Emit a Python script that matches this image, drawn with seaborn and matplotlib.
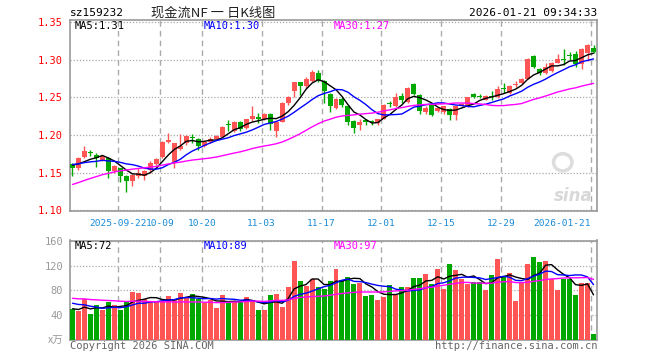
import numpy as np
import pandas as pd
import matplotlib
matplotlib.use("Agg")
import matplotlib.pyplot as plt
from matplotlib.patches import Ellipse
import seaborn as sns

# daily OHLC, 2025-09-10 .. 2026-01-21
opens = [1.161, 1.156, 1.171, 1.177, 1.174, 1.167, 1.169, 1.152, 1.156, 1.146,
         1.139, 1.146, 1.146, 1.154, 1.162, 1.171, 1.191, 1.164, 1.182, 1.189,
         1.197, 1.195, 1.186, 1.191, 1.195, 1.198, 1.214, 1.205, 1.218, 1.209,
         1.221, 1.223, 1.221, 1.228, 1.205, 1.218, 1.242, 1.258, 1.270, 1.265,
         1.272, 1.282, 1.272, 1.255, 1.236, 1.248, 1.238, 1.219, 1.213, 1.219,
         1.218, 1.216, 1.222, 1.242, 1.239, 1.252, 1.244, 1.268, 1.253, 1.231,
         1.240, 1.232, 1.231, 1.235, 1.227, 1.240, 1.238, 1.255, 1.252, 1.247,
         1.251, 1.250, 1.262, 1.256, 1.267, 1.269, 1.275, 1.305, 1.288, 1.282,
         1.285, 1.296, 1.301, 1.306, 1.307, 1.294, 1.309, 1.316]
highs = [1.163, 1.171, 1.186, 1.180, 1.176, 1.174, 1.171, 1.160, 1.157, 1.147,
         1.148, 1.156, 1.154, 1.165, 1.170, 1.192, 1.203, 1.190, 1.201, 1.200,
         1.201, 1.196, 1.193, 1.197, 1.200, 1.212, 1.220, 1.219, 1.219, 1.222,
         1.238, 1.229, 1.229, 1.229, 1.219, 1.244, 1.252, 1.271, 1.271, 1.277,
         1.286, 1.286, 1.273, 1.256, 1.249, 1.250, 1.239, 1.220, 1.221, 1.222,
         1.220, 1.222, 1.241, 1.245, 1.256, 1.256, 1.264, 1.269, 1.254, 1.238,
         1.241, 1.237, 1.239, 1.236, 1.239, 1.242, 1.251, 1.256, 1.254, 1.253,
         1.258, 1.265, 1.269, 1.267, 1.272, 1.276, 1.302, 1.306, 1.289, 1.296,
         1.297, 1.308, 1.314, 1.310, 1.311, 1.315, 1.321, 1.319]
lows = [1.146, 1.154, 1.169, 1.172, 1.158, 1.165, 1.143, 1.150, 1.138, 1.125,
        1.133, 1.143, 1.140, 1.150, 1.160, 1.170, 1.189, 1.156, 1.180, 1.187,
        1.190, 1.180, 1.184, 1.189, 1.194, 1.197, 1.206, 1.204, 1.206, 1.208,
        1.219, 1.216, 1.220, 1.207, 1.198, 1.217, 1.240, 1.250, 1.253, 1.263,
        1.271, 1.271, 1.243, 1.230, 1.235, 1.237, 1.213, 1.203, 1.207, 1.213,
        1.214, 1.213, 1.221, 1.237, 1.237, 1.243, 1.243, 1.253, 1.228, 1.228,
        1.225, 1.230, 1.228, 1.220, 1.220, 1.238, 1.237, 1.249, 1.249, 1.246,
        1.246, 1.249, 1.256, 1.255, 1.264, 1.268, 1.274, 1.289, 1.280, 1.281,
        1.284, 1.295, 1.293, 1.299, 1.291, 1.288, 1.298, 1.309]
closes = [1.157, 1.169, 1.179, 1.176, 1.169, 1.172, 1.152, 1.159, 1.146, 1.139,
          1.147, 1.150, 1.152, 1.163, 1.168, 1.191, 1.194, 1.189, 1.186, 1.199,
          1.196, 1.186, 1.191, 1.195, 1.199, 1.211, 1.213, 1.218, 1.208, 1.221,
          1.226, 1.222, 1.228, 1.215, 1.218, 1.243, 1.251, 1.270, 1.265, 1.275,
          1.284, 1.273, 1.258, 1.238, 1.248, 1.240, 1.218, 1.209, 1.218, 1.218,
          1.217, 1.221, 1.240, 1.241, 1.251, 1.247, 1.263, 1.255, 1.232, 1.236,
          1.227, 1.236, 1.238, 1.227, 1.238, 1.241, 1.250, 1.250, 1.251, 1.252,
          1.250, 1.261, 1.261, 1.265, 1.268, 1.275, 1.301, 1.290, 1.282, 1.290,
          1.296, 1.301, 1.299, 1.305, 1.294, 1.314, 1.320, 1.310]
# volume, unit 万
volumes = [49, 46, 66, 41, 56, 48, 61, 56, 48, 62,
           77, 75, 66, 61, 61, 62, 71, 66, 75, 69,
           74, 66, 59, 64, 51, 72, 62, 62, 61, 69,
           64, 48, 48, 72, 74, 53, 85, 127, 95, 87,
           98, 85, 82, 95, 114, 97, 102, 90, 92, 71,
           72, 64, 69, 89, 72, 85, 85, 100, 100, 106,
           90, 114, 82, 123, 113, 98, 90, 93, 93, 80,
           105, 131, 102, 108, 62, 93, 123, 134, 126, 128,
           98, 80, 98, 98, 72, 92, 92, 9]

# sessions before the window, estimated from where the MA lines start
closes_before = [1.092, 1.094, 1.095, 1.097, 1.096, 1.098, 1.101, 1.104, 1.108, 1.113,
                 1.121, 1.128, 1.134, 1.139, 1.142, 1.146, 1.150, 1.153, 1.155, 1.158,
                 1.160, 1.163, 1.166, 1.162, 1.158, 1.161, 1.164, 1.160, 1.159]
volumes_before = [72, 68, 75, 70, 66, 74, 69, 71, 73, 68,
                  70, 75, 72, 69, 71, 67, 73, 70, 74, 73,
                  66, 72, 64, 70, 68, 52, 47, 55, 47]

date_ticks = [8, 15, 22, 32, 42, 52, 62, 72, 87]
date_labels = ["2025-09-22", "10-09", "10-20", "11-03", "11-17",
               "12-01", "12-15", "12-29", "2026-01-21"]

RED = "#ff5555"
GREEN = "#00a800"
GRID = "#aaaaaa"
FRAME = "#999999"
MONO = "DejaVu Sans Mono"

sns.set_theme(style="white")
plt.rcParams["font.family"] = [MONO, "Noto Sans CJK SC"]

n = len(closes)
x = np.arange(n)
up = np.array(closes) >= np.array(opens)
colors = np.where(up, RED, GREEN)

c_all = pd.Series(closes_before + closes)
v_all = pd.Series(volumes_before + volumes)
ma_p = {k: c_all.rolling(k).mean().to_numpy()[-n:] for k in (5, 10, 30)}
ma_v = {k: v_all.rolling(k).mean().to_numpy()[-n:] for k in (5, 10, 30)}
ma_col = {5: "black", 10: "#0000ff", 30: "#ff00ff"}

W, H = 660, 360
fig = plt.figure(figsize=(6.6, 3.6), dpi=100)
ax1 = fig.add_axes([70 / W, 1 - 211 / H, 527 / W, 191 / H])
ax2 = fig.add_axes([70 / W, 1 - 340 / H, 527 / W, 99.5 / H])

bw = 5 / 6
xl = (-2.5 / 6, n - 2.5 / 6)
grid_x = [t - 2.5 / 6 for t in date_ticks]

# watermark (drawn under the candles)
ax1.add_patch(Ellipse((0.935, 0.255), 0.035, 0.09, transform=ax1.transAxes,
                      facecolor="none", edgecolor="#dddddd", linewidth=2.5, zorder=1))
ax1.text(0.992, 0.08, "sina", transform=ax1.transAxes, fontsize=12, color="#d8d8d8",
         style="italic", weight="bold", va="center", ha="right",
         family="DejaVu Sans", zorder=1)

# candles
body_lo = np.minimum(opens, closes)
body_h = np.maximum(np.abs(np.array(closes) - np.array(opens)), 0.0014)
ax1.vlines(x, lows, highs, colors=colors, linewidth=1, zorder=3)
ax1.bar(x, body_h, bottom=body_lo, width=bw, color=colors, linewidth=0, zorder=4)
for k in (5, 10, 30):
    sns.lineplot(x=x, y=ma_p[k], ax=ax1, color=ma_col[k], linewidth=1, zorder=5)

# volume
ax2.bar(x, volumes, width=bw, color=colors, linewidth=0, zorder=3)
for k in (5, 10, 30):
    sns.lineplot(x=x, y=ma_v[k], ax=ax2, color=ma_col[k], linewidth=1, zorder=5)

ax1.set_xlim(xl)
ax1.set_ylim(1.0993, 1.3527)
ax1.set_yticks([1.10, 1.15, 1.20, 1.25, 1.30, 1.35])
ax1.set_yticklabels(["1.10", "1.15", "1.20", "1.25", "1.30", "1.35"])
ax1.set_xticks(grid_x)
ax1.set_xticklabels(date_labels)
ax1.xaxis.get_ticklabels()[-1].set_ha("right")
ax1.tick_params(axis="x", length=0, pad=6, labelsize=6.8, labelcolor="#1a8bd6")
ax1.tick_params(axis="y", length=0, pad=5, labelsize=7.5, labelcolor="#ff0000")

ax2.set_xlim(xl)
ax2.set_ylim(-0.8, 161)
ax2.set_yticks([0, 40, 80, 120, 160])
ax2.set_yticklabels(["x万", "40", "80", "120", "160"])
ax2.set_xticks(grid_x)
ax2.set_xticklabels([])
ax2.tick_params(axis="x", length=0)
ax2.tick_params(axis="y", length=0, pad=5, labelsize=7.5, labelcolor="#999999")
ax2.get_yticklabels()[0].set_fontfamily(["Noto Sans CJK SC"])

for ax in (ax1, ax2):
    ax.set_xlabel("")
    ax.set_ylabel("")
    ax.xaxis.grid(True, color=GRID, linestyle=(0, (4, 3)), linewidth=1)
    ax.yaxis.grid(True, color=GRID, linestyle=(0, (1, 1.5)), linewidth=0.9)
    ax.set_axisbelow(True)
    for s in ax.spines.values():
        s.set_color(FRAME)
        s.set_linewidth(1.2)

# header texts
fig.text(70 / W, 1 - 13 / H, "sz159232", fontsize=8, color="black", va="center", ha="left")
fig.text(213 / W, 1 - 13 / H, "现金流NF 一 日K线图", fontsize=9.5, color="#222222",
         va="center", ha="center", family=["Noto Sans CJK SC", MONO])
fig.text(597 / W, 1 - 13 / H, "2026-01-21 09:34:33", fontsize=8, color="black",
         va="center", ha="right")

# MA legends
for txt, px, col in [("MA5:1.31", 75, "black"), ("MA10:1.30", 204, "#0000ff"),
                     ("MA30:1.27", 334, "#ff00ff")]:
    fig.text(px / W, 1 - 26 / H, txt, fontsize=7.5, color=col, va="center", ha="left")
for txt, px, col in [("MA5:72", 75, "black"), ("MA10:89", 204, "#0000ff"),
                     ("MA30:97", 334, "#ff00ff")]:
    fig.text(px / W, 1 - 246 / H, txt, fontsize=7.5, color=col, va="center", ha="left")

# footer
fig.text(70 / W, 1 - 346 / H, "Copyright 2026 SINA.COM", fontsize=7.5, color="#666666",
         va="center", ha="left")
fig.text(597 / W, 1 - 346 / H, "http://finance.sina.com.cn", fontsize=7.5, color="#666666",
         va="center", ha="right")

fig.savefig("out.png", dpi=100)
